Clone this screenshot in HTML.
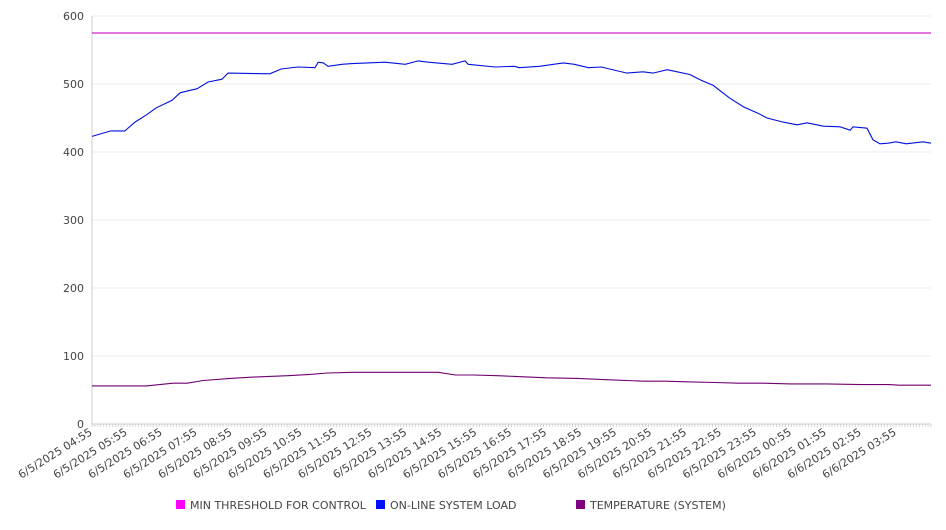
<!DOCTYPE html>
<html><head><meta charset="utf-8"><style>
body{margin:0;background:#fff;font-family:"DejaVu Sans","Liberation Sans",sans-serif}
svg text{font-family:"DejaVu Sans","Liberation Sans",sans-serif;fill:#444}
</style></head><body>
<svg id="chart" width="946" height="526" xmlns="http://www.w3.org/2000/svg"></svg>
<script>
const xLabels=["6/5/2025 04:55","6/5/2025 05:55","6/5/2025 06:55","6/5/2025 07:55","6/5/2025 08:55","6/5/2025 09:55","6/5/2025 10:55","6/5/2025 11:55","6/5/2025 12:55","6/5/2025 13:55","6/5/2025 14:55","6/5/2025 15:55","6/5/2025 16:55","6/5/2025 17:55","6/5/2025 18:55","6/5/2025 19:55","6/5/2025 20:55","6/5/2025 21:55","6/5/2025 22:55","6/5/2025 23:55","6/6/2025 00:55","6/6/2025 01:55","6/6/2025 02:55","6/6/2025 03:55"];
const yTicks=[0,100,200,300,400,500,600];
const thresholdValue=575;
const loadHours=[0,0.54,0.52,0.94,1.23,1.54,1.84,2.29,2.52,2.75,3.0,3.32,3.72,3.89,5.09,5.41,5.89,6.38,6.47,6.62,6.75,7.15,7.44,7.89,8.38,8.96,9.33,9.62,10.3,10.67,10.76,11.53,12.08,12.22,12.8,13.48,13.8,14.2,14.57,15.3,15.76,16.05,16.45,16.74,17.1,17.4,17.77,18.25,18.65,19.05,19.31,19.77,20.17,20.46,20.92,21.4,21.69,21.77,22.17,22.34,22.54,22.77,23.0,23.29,23.77,24.0];
const loadValues=[423,431,431,431,444,454,465,476,487,490,493,503,507,516,515,522,525,524,532,531,526,529,530,531,532,529,534,532,529,534,529,525,526,524,526,531,529,524,525,516,518,516,521,518,514,506,498,479,466,457,450,444,440,443,438,437,432,437,435,418,412,413,415,412,415,413];
const tempHours=[0,1.55,2.32,2.72,3.18,3.95,4.61,5.6,6.24,6.73,7.47,9.9,10.4,10.9,11.6,12.1,13.0,13.9,14.8,15.8,16.4,17.0,17.8,18.5,19.2,20.0,21.0,22.0,22.8,23.1,24.0];
const tempValues=[56,56,60,60,64,67,69,71,73,75,76,76,72,72,71,70,68,67,65,63,63,62,61,60,60,59,59,58,58,57,57];
const legendNames=["MIN THRESHOLD FOR CONTROL","ON-LINE SYSTEM LOAD","TEMPERATURE (SYSTEM)"];

const svg=document.getElementById('chart');
const NS='http://www.w3.org/2000/svg';
const X0=92,X1=931,Y0=424,Y1=16;
const xs=h=>X0+h/24*(X1-X0);
const ys=v=>Y0-v/600*(Y0-Y1);
function mk(t,a,p){const e=document.createElementNS(NS,t);for(const k in a)e.setAttribute(k,a[k]);(p||svg).appendChild(e);return e;}

yTicks.forEach(v=>{
  const g=mk('line',{x1:X0,x2:X1,y1:ys(v),y2:ys(v),stroke:v===0?'#ccc':'#ebebeb','stroke-width':1});
  
  
  const t=mk('text',{x:84,y:ys(v)+4,'text-anchor':'end','font-size':11});
  t.textContent=v;
  
  
});
const ax=mk('line',{x1:X0,x2:X0,y1:Y1,y2:Y0,stroke:'#ccc'});


let d='';
for(let i=0;i<=288;i++){const x=X0+i*(X1-X0)/288;d+=`M${x.toFixed(1)} ${Y0}v3`;}
const tk=mk('path',{d:d,stroke:'#ccc','stroke-width':0.8});


xLabels.forEach((l,i)=>{
  const x=xs(i)+1,y=Y0+10;
  const t=mk('text',{x:x,y:y,'text-anchor':'end','font-size':11,transform:`rotate(-32 ${x} ${y})`});
  t.textContent=l;
  
  
});
const th=mk('line',{x1:X0,x2:X1,y1:ys(thresholdValue),y2:ys(thresholdValue),stroke:'#d020d0','stroke-width':1.2});


const lp=mk('polyline',{points:loadHours.map((h,i)=>xs(h).toFixed(1)+','+ys(loadValues[i]).toFixed(1)).join(' '),fill:'none',stroke:'#0010e0','stroke-width':1.1});


const tp=mk('polyline',{points:tempHours.map((h,i)=>xs(h).toFixed(1)+','+ys(tempValues[i]).toFixed(1)).join(' '),fill:'none',stroke:'#700070','stroke-width':1.1});


const lc=['#ff00ff','#0010ff','#800080'],lx=[176,376,576];
legendNames.forEach((n,i)=>{
  const g=mk('g',{});
  
  
  mk('rect',{x:lx[i],y:500,width:9,height:9,fill:lc[i]},g);
  const t=mk('text',{x:lx[i]+14,y:509,'font-size':11},g);
  t.textContent=n;
});
</script>
</body></html>
